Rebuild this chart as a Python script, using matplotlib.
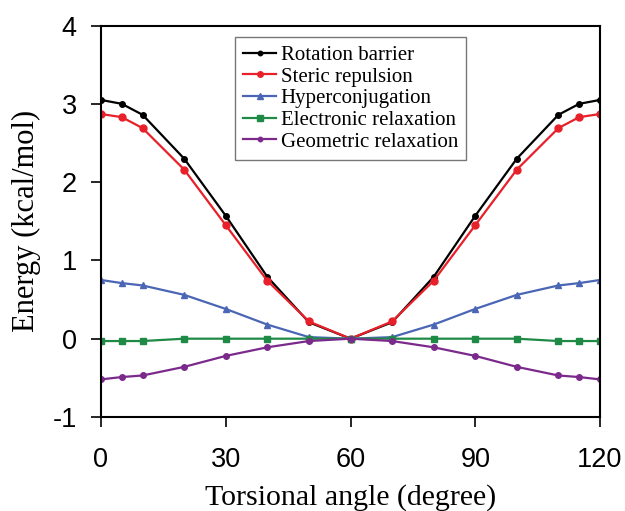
import matplotlib
matplotlib.use("Agg")
import matplotlib.pyplot as plt

# torsional angle (degree)
angle = [0, 5, 10, 20, 30, 40, 50, 60, 70, 80, 90, 100, 110, 115, 120]

# energies (kcal/mol), symmetric about 60 degrees
rotation = [3.05, 3.00, 2.86, 2.30, 1.57, 0.79, 0.21, 0.00,
            0.21, 0.79, 1.57, 2.30, 2.86, 3.00, 3.05]
steric = [2.87, 2.83, 2.69, 2.16, 1.45, 0.74, 0.22, 0.00,
          0.22, 0.74, 1.45, 2.16, 2.69, 2.83, 2.87]
hyper = [0.75, 0.71, 0.68, 0.56, 0.38, 0.18, 0.02, 0.00,
         0.02, 0.18, 0.38, 0.56, 0.68, 0.71, 0.75]
electronic = [-0.03, -0.03, -0.03, 0.00, 0.00, 0.00, 0.00, 0.00,
              0.00, 0.00, 0.00, 0.00, -0.03, -0.03, -0.03]
geometric = [-0.52, -0.49, -0.47, -0.36, -0.22, -0.11, -0.03, 0.00,
             -0.03, -0.11, -0.22, -0.36, -0.47, -0.49, -0.52]

plt.rcParams["axes.unicode_minus"] = False

fig = plt.figure(figsize=(6.25, 5.11), dpi=100)
ax = fig.add_axes([0.1616, 0.184, 0.7984, 0.766])

ax.plot(angle, rotation, color="black", marker="o", ms=4, lw=1.6, label="Rotation barrier")
ax.plot(angle, steric, color="#e8202a", marker="o", ms=5, lw=1.6, label="Steric repulsion")
ax.plot(angle, hyper, color="#4a66b5", marker="^", ms=5, lw=1.6, label="Hyperconjugation")
ax.plot(angle, electronic, color="#1f8a45", marker="s", ms=5, lw=1.6, label="Electronic relaxation")
ax.plot(angle, geometric, color="#7b2a8c", marker="o", ms=4, lw=1.6, label="Geometric relaxation")

ax.set_xlim(0, 120)
ax.set_ylim(-1, 4)
ax.set_xticks([0, 30, 60, 90, 120])
ax.set_yticks([-1, 0, 1, 2, 3, 4])
ax.tick_params(direction="out", length=7.5, width=1.2, labelsize=19.5)
ax.tick_params(axis="x", pad=14)
ax.tick_params(axis="y", pad=10)
for lbl in ax.get_xticklabels() + ax.get_yticklabels():
    lbl.set_fontfamily("Liberation Sans")
for s in ax.spines.values():
    s.set_linewidth(1.5)

ax.set_xlabel("Torsional angle (degree)", family="Liberation Serif", fontsize=21.5, labelpad=8)
ax.set_ylabel("Energy (kcal/mol)", family="Liberation Serif", fontsize=22, labelpad=8)

leg = ax.legend(loc="upper center", bbox_to_anchor=(0.5, 0.997), prop={"family": "Liberation Serif", "size": 15},
                fancybox=False, edgecolor="#555555", handlelength=1.6, handletextpad=0.2,
                labelspacing=0.1, borderpad=0.4, markerscale=0.8)
leg.get_frame().set_linewidth(1.0)

fig.savefig("out.png", dpi=100)
